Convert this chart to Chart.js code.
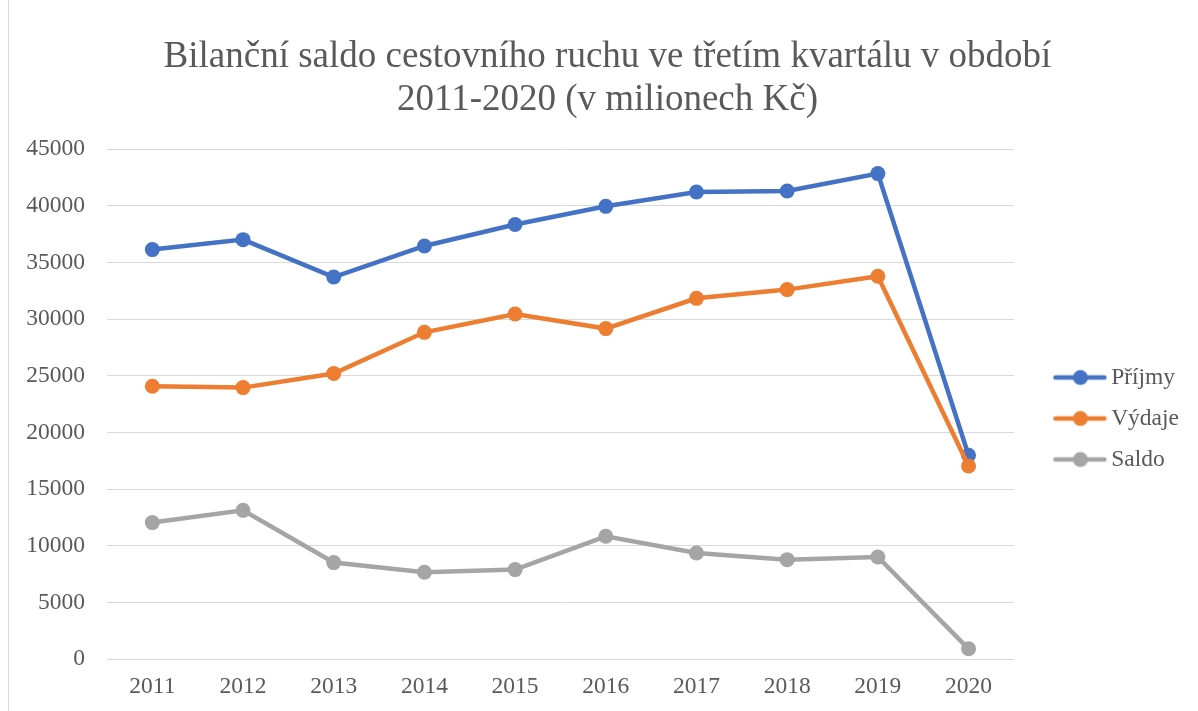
<!DOCTYPE html>
<html>
<head>
<meta charset="utf-8">
<script src="https://cdn.jsdelivr.net/npm/chart.js@4"></script>
<style>
    html, body { margin: 0; padding: 0; background: #fff; }
    #wrap { position: relative; width: 1198px; height: 711px; }
    #frame { position: absolute; left: 8px; top: 0; width: 0; height: 711px; border-left: 1px solid #d9d9d9; }
    canvas { display: block; }
</style>
</head>
<body>
<div id="wrap">
    <div id="frame"></div>
    <canvas id="myChart" width="1198" height="711"></canvas>
</div>
<script>
let years = ['2011', '2012', '2013', '2014', '2015', '2016', '2017', '2018', '2019', '2020'];
let prijmy = [36130, 37010, 33710, 36450, 38340, 39950, 41220, 41300, 42840, 17980];
let vydaje = [24070, 23950, 25190, 28830, 30450, 29160, 31830, 32600, 33780, 17030];
let saldo = [12040, 13120, 8510, 7650, 7890, 10830, 9360, 8770, 9000, 900];
let seriesNames = ['Příjmy', 'Výdaje', 'Saldo'];
let seriesColors = ['#4472C4', '#ED7D31', '#A5A5A5'];

const textColor = '#595959';
const gridColor = '#d9d9d9';
const serif = "'Liberation Serif', 'Times New Roman', serif";

// little line + dot pictures for the legend
function legendIcon(color) {
    let c = document.createElement('canvas');
    c.width = 84;
    c.height = 18;
    let g = c.getContext('2d');
    g.strokeStyle = color;
    g.lineWidth = 4.5;
    g.lineCap = 'round';
    g.beginPath();
    g.moveTo(32, 9);
    g.lineTo(81, 9);
    g.stroke();
    g.fillStyle = color;
    g.beginPath();
    g.arc(57, 9, 7.5, 0, Math.PI * 2);
    g.fill();
    return c;
}
let icons = seriesColors.map(legendIcon);

function makeDataset(i, values, order) {
    return {
        label: seriesNames[i],
        data: values,
        borderColor: seriesColors[i],
        backgroundColor: seriesColors[i],
        borderWidth: 4.5,
        pointRadius: 7.5,
        pointHoverRadius: 7.5,
        pointBorderWidth: 0,
        tension: 0,
        order: order
    };
}

const ctx = document.getElementById('myChart').getContext('2d');
let myChart = new Chart(ctx, {
    type: 'line',
    data: {
        labels: years,
        datasets: [
            makeDataset(0, prijmy, 3),
            makeDataset(1, vydaje, 2),
            makeDataset(2, saldo, 1)
        ]
    },
    options: {
        responsive: false,
        animation: false,
        layout: {
            padding: { left: 26, right: 9, top: 0, bottom: 10 }
        },
        plugins: {
            title: {
                display: true,
                text: ['Bilanční saldo cestovního ruchu ve třetím kvartálu v období', '2011-2020 (v milionech Kč)'],
                color: textColor,
                font: { family: serif, size: 37, weight: 'normal', lineHeight: 1.15 },
                padding: { top: 36, bottom: 28 }
            },
            legend: {
                position: 'right',
                align: 'center',
                title: {
                    display: true,
                    text: '',
                    font: { size: 10, lineHeight: 1 },
                    padding: { top: 63, bottom: 63 }
                },
                labels: {
                    color: textColor,
                    font: { family: serif, size: 23.5 },
                    usePointStyle: true,
                    pointStyleWidth: 68,
                    padding: 17.5,
                    sort: (a, b) => a.datasetIndex - b.datasetIndex,
                    generateLabels: function (chart) {
                        let items = Chart.defaults.plugins.legend.labels.generateLabels(chart);
                        items.forEach(item => {
                            item.pointStyle = icons[item.datasetIndex];
                        });
                        return items;
                    }
                }
            },
            tooltip: { enabled: false }
        },
        scales: {
            x: {
                offset: true,
                grid: { display: false, drawTicks: false },
                border: { display: true, color: gridColor, width: 1 },
                ticks: { color: textColor, font: { family: serif, size: 23.5 }, padding: 14 },
                afterFit: function (scale) { scale.height = 42; }
            },
            y: {
                min: 0,
                max: 45000,
                grid: { color: gridColor, lineWidth: 1, drawTicks: false },
                border: { display: false },
                ticks: {
                    stepSize: 5000,
                    color: textColor,
                    font: { family: serif, size: 23.5 },
                    padding: 22,
                    callback: value => String(value)
                },
                afterFit: function (scale) { scale.width = 81; }
            }
        }
    }
});
</script>
</body>
</html>
